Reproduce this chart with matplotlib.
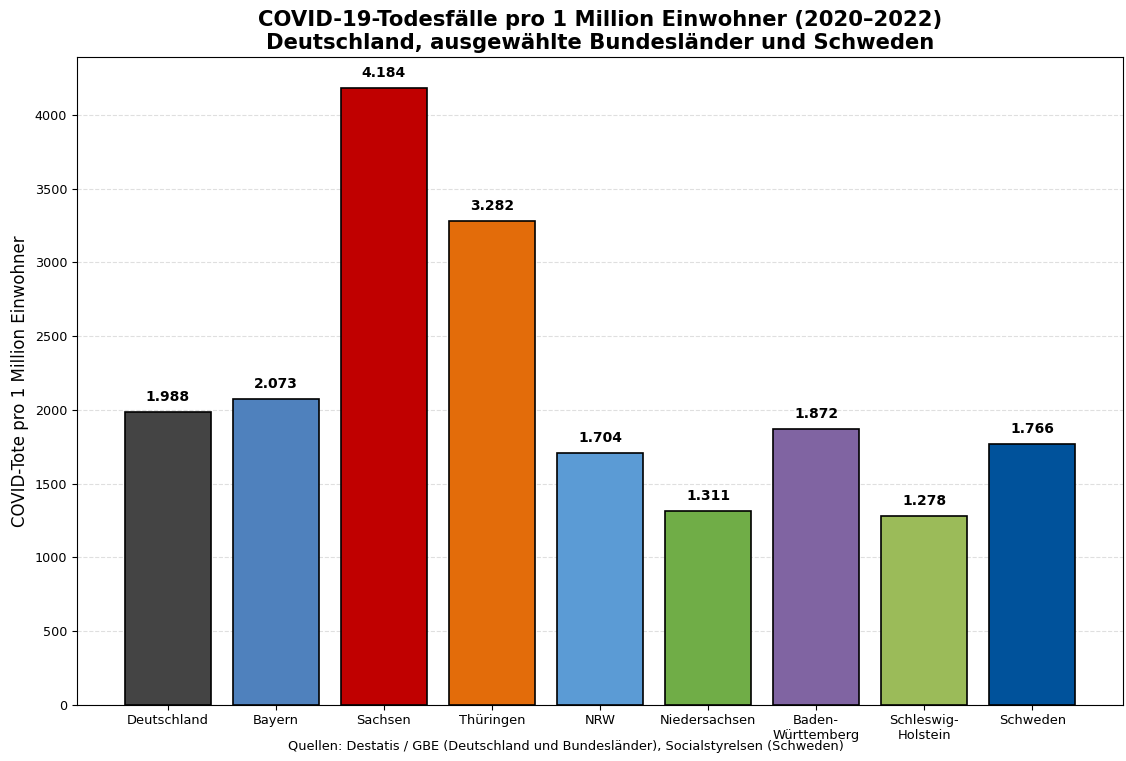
import matplotlib.pyplot as plt
import numpy as np

# Values
regions = ["Deutschland", "Bayern", "Sachsen", "Thüringen", "NRW",
           "Niedersachsen", "Baden-\nWürttemberg", "Schleswig-\nHolstein", "Schweden"]
deaths_per_million = [1988, 2073, 4184, 3282, 1704, 1311, 1872, 1278, 1766]
bar_colors = ["#444444", "#4f81bd", "#c00000", "#e36c0a", "#5b9bd5",
              "#70ad47", "#8064a2", "#9bbb59", "#00529b"]


def fmt_de(v):
    return f"{v:,}".replace(",", ".")


fig = plt.figure(figsize=(11.26, 7.61), dpi=100)
ax = fig.add_axes([0.0684, 0.074, 0.9289, 0.851])

x = np.arange(len(regions))
ax.bar(x, deaths_per_million, width=0.8, color=bar_colors,
       edgecolor="black", linewidth=1.2, zorder=3)

for xi, v in zip(x, deaths_per_million):
    ax.text(xi, v + 55, fmt_de(v), ha="center", va="bottom",
            fontsize=10, fontweight="bold", zorder=4)

ax.set_ylim(0, max(deaths_per_million) * 1.05)
ax.set_yticks(np.arange(0, 4001, 500))
ax.set_xticks(x)
ax.set_xticklabels(regions, fontsize=9.4)
ax.tick_params(axis="y", labelsize=9.2)
ax.yaxis.grid(True, linestyle="--", alpha=0.4, zorder=0)
ax.set_axisbelow(True)

ax.set_ylabel("COVID-Tote pro 1 Million Einwohner", fontsize=12)
ax.set_title("COVID-19-Todesfälle pro 1 Million Einwohner (2020–2022)\n"
             "Deutschland, ausgewählte Bundesländer und Schweden",
             fontsize=15.2, fontweight="bold", pad=6)

fig.text(0.503, 0.014, "Quellen: Destatis / GBE (Deutschland und Bundesländer), "
         "Socialstyrelsen (Schweden)", ha="center", fontsize=9.3)

fig.savefig("out.png", dpi=100, facecolor="white")
